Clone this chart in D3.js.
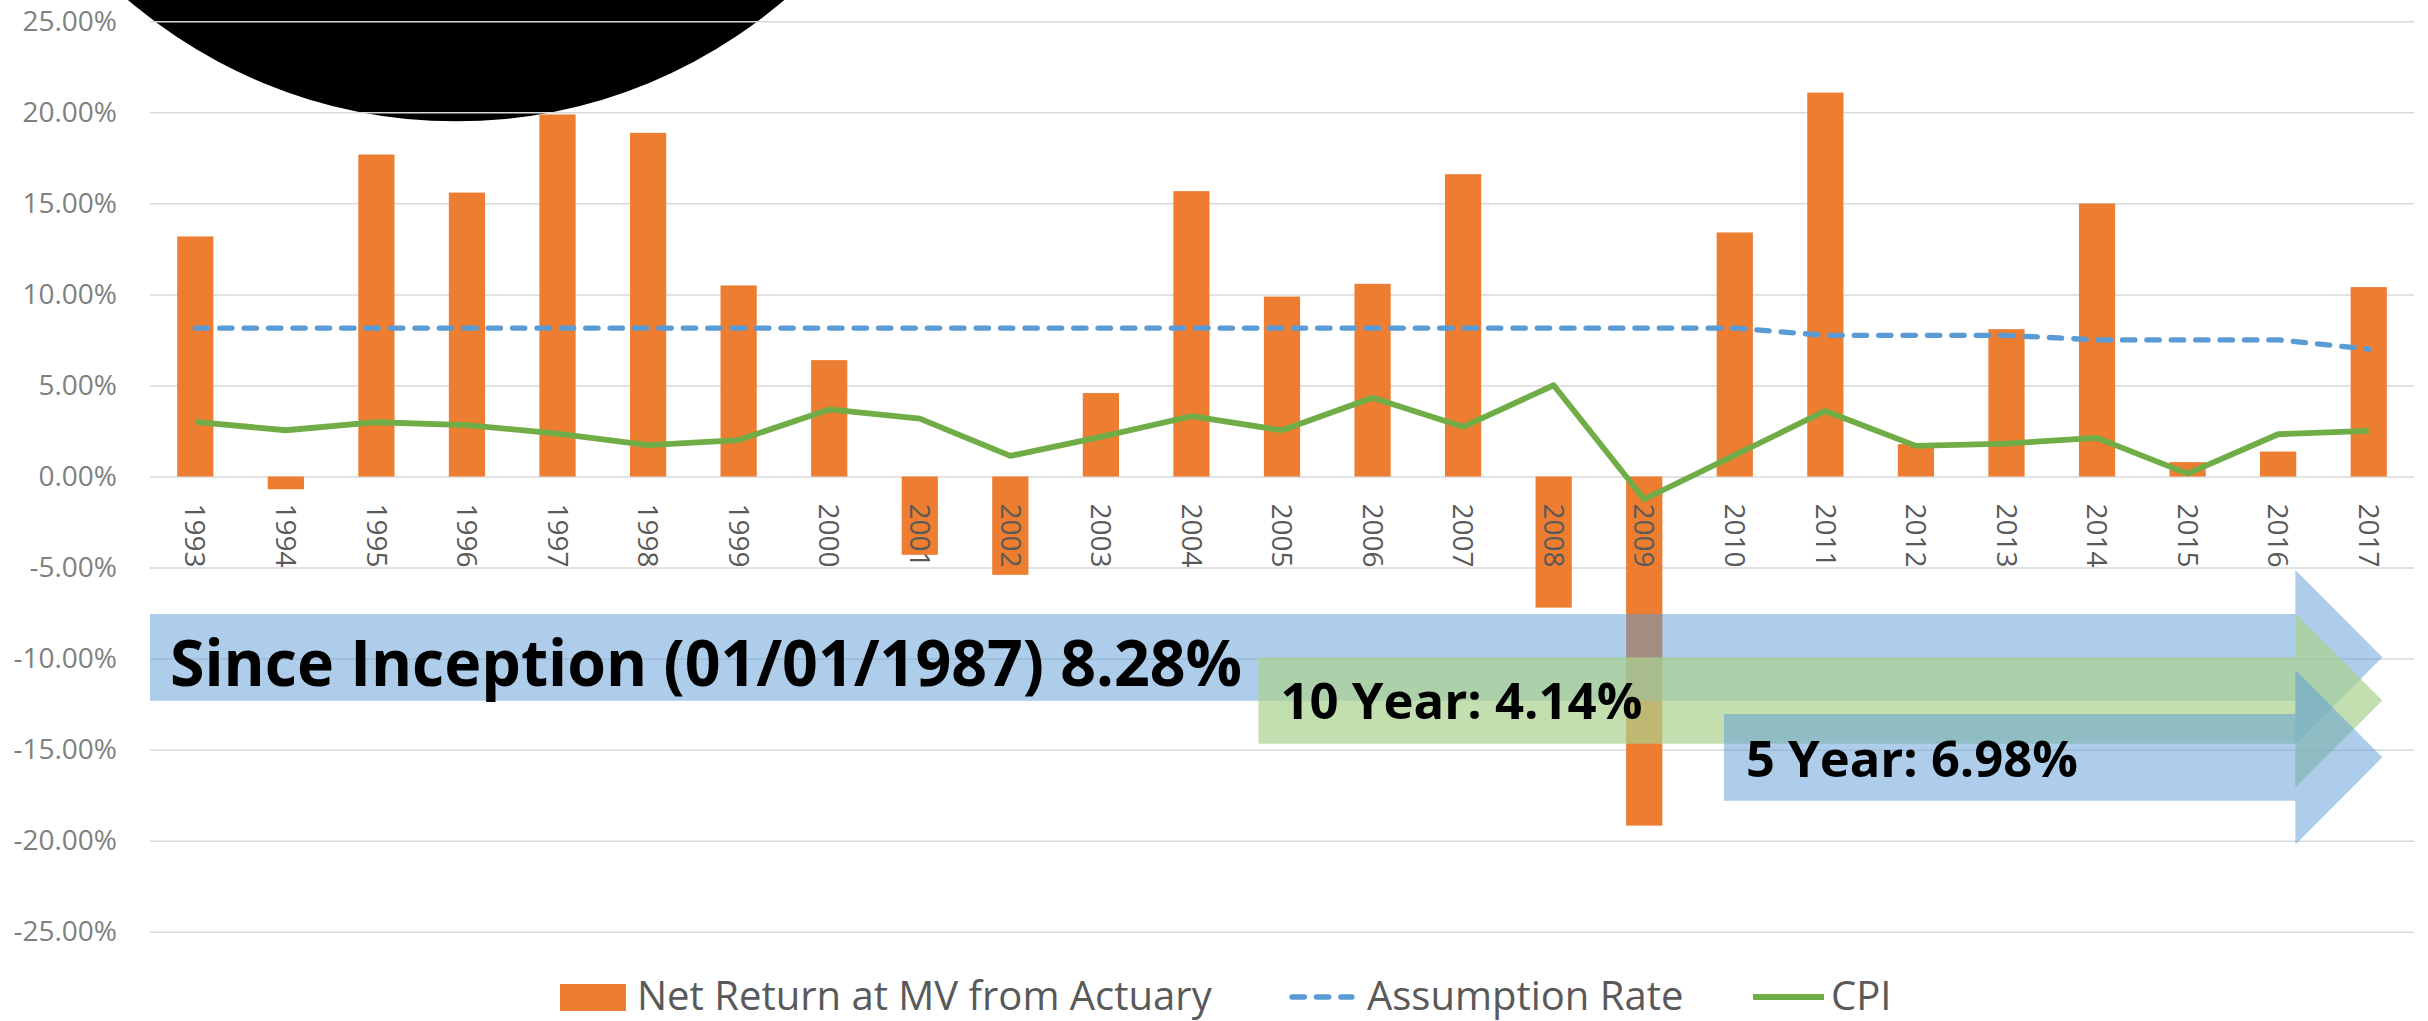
<!DOCTYPE html>
<html>
<head>
<meta charset="utf-8">
<script src="https://cdn.jsdelivr.net/npm/d3@7"></script>
<style>
    body { margin: 0; background: #fff; }
    svg { display: block; font-family: 'Open Sans', sans-serif; }
</style>
</head>
<body>
<div class="visHolder"></div>
<script>
// data (percent)
const years = [1993, 1994, 1995, 1996, 1997, 1998, 1999, 2000, 2001, 2002, 2003, 2004, 2005,
    2006, 2007, 2008, 2009, 2010, 2011, 2012, 2013, 2014, 2015, 2016, 2017];
const netReturn = [13.18, -0.70, 17.68, 15.59, 19.88, 18.87, 10.49, 6.39, -4.30, -5.40, 4.58, 15.67, 9.88,
    10.58, 16.60, -7.20, -19.17, 13.40, 21.08, 1.78, 8.09, 14.99, 0.79, 1.37, 10.40];
const assumptionRate = [8.15, 8.15, 8.15, 8.15, 8.15, 8.15, 8.15, 8.15, 8.15, 8.15, 8.15, 8.15, 8.15,
    8.15, 8.15, 8.15, 8.15, 8.15, 7.75, 7.75, 7.75, 7.5, 7.5, 7.5, 7.0];
const cpi = [3.00, 2.54, 2.98, 2.82, 2.36, 1.72, 2.00, 3.68, 3.18, 1.13, 2.18, 3.31, 2.54,
    4.32, 2.73, 5.01, -1.25, 1.17, 3.60, 1.68, 1.81, 2.12, 0.16, 2.32, 2.51];
const yTicks = [25, 20, 15, 10, 5, 0, -5, -10, -15, -20, -25];
const seriesNames = ['Net Return at MV from Actuary', 'Assumption Rate', 'CPI'];
const callouts = ['Since Inception (01/01/1987) 8.28%', '10 Year: 4.14%', '5 Year: 6.98%'];

const width = 2428,
    height = 1021,
    left = 150,
    right = 2414;

const svg = d3.select('.visHolder')
    .append('svg')
    .attr('width', width)
    .attr('height', height);

const x = d3.scaleBand()
    .domain(years)
    .range([left, right])
    .paddingInner(0.6)
    .paddingOuter(0.3);

// fractional category position -> px (used for the overlays)
const xIdx = d3.scaleLinear()
    .domain([-0.5, years.length - 0.5])
    .range([left, right]);

const y = d3.scaleLinear()
    .domain([-25, 25])
    .range([931.8, 21.2]);

const cx = d => x(d) + x.bandwidth() / 2;

// black blob covering the top-left (drawn under the grid)
svg.append('circle')
    .attr('cx', xIdx(2.88))
    .attr('cy', y(47.2))
    .attr('r', y(0) - y(27.7))
    .attr('fill', '#000');

// gridlines
svg.append('g')
    .attr('transform', `translate(${left},0)`)
    .call(d3.axisLeft(y).tickValues(yTicks).tickSize(-(right - left)).tickFormat(''))
    .call(g => g.select('.domain').remove())
    .call(g => g.selectAll('line').attr('stroke', '#d9d9d9').attr('stroke-width', 1.5));

// y labels
svg.append('g')
    .attr('transform', `translate(${left},0)`)
    .call(d3.axisLeft(y).tickValues(yTicks).tickSize(0).tickPadding(33)
        .tickFormat(d => d.toFixed(2) + '%'))
    .call(g => g.select('.domain').remove())
    .call(g => g.selectAll('text')
        .attr('fill', '#808080')
        .style('font-size', '28px')
        .style('font-family', "'Open Sans', sans-serif"));

// bars
svg.append('g')
    .selectAll('rect')
    .data(netReturn)
    .enter()
    .append('rect')
    .attr('x', (d, i) => x(years[i]))
    .attr('y', d => y(Math.max(0, d)))
    .attr('width', x.bandwidth())
    .attr('height', d => Math.abs(y(d) - y(0)))
    .attr('fill', '#ED7D31');

// x labels, rotated
svg.append('g')
    .attr('transform', `translate(0,${y(0)})`)
    .call(d3.axisBottom(x).tickSize(0))
    .call(g => g.select('.domain').remove())
    .call(g => g.selectAll('text')
        .attr('transform', 'rotate(90)')
        .attr('x', 27)
        .attr('y', 0)
        .attr('dy', '0.35em')
        .attr('fill', '#595959')
        .style('text-anchor', 'start')
        .style('font-size', '28px')
        .style('font-family', "'Open Sans', sans-serif"));

// lines
const line = d3.line()
    .x((d, i) => cx(years[i]))
    .y(d => y(d));

svg.append('path')
    .attr('d', line(assumptionRate))
    .attr('fill', 'none')
    .attr('stroke', '#5B9BD5')
    .attr('stroke-width', 5.3)
    .attr('stroke-dasharray', '12.4 12')
    .attr('stroke-linecap', 'round')
    .attr('stroke-linejoin', 'round');

svg.append('path')
    .attr('d', line(cpi))
    .attr('fill', 'none')
    .attr('stroke', '#70AD47')
    .attr('stroke-width', 5.8)
    .attr('stroke-linejoin', 'round');

// callout arrows
const headStart = 23.19,
    tip = 24.15,
    shaftHalf = 2.38,
    headHalf = 4.79;

const arrows = [
    { start: -0.5, mid: -9.93, fill: 'rgba(91,155,213,0.5)', size: 65, len: 1072, dx: 20, dy: 28.7 },
    { start: 11.74, mid: -12.3, fill: 'rgba(169,209,142,0.7)', size: 50, len: 362, dx: 22, dy: 18.3 },
    { start: 16.88, mid: -15.42, fill: 'rgba(91,155,213,0.5)', size: 51, len: 332, dx: 22, dy: 19.2 }
];

arrows.forEach((a, i) => {
    const pts = [
        [xIdx(a.start), y(a.mid + shaftHalf)],
        [xIdx(headStart), y(a.mid + shaftHalf)],
        [xIdx(headStart), y(a.mid + headHalf)],
        [xIdx(tip), y(a.mid)],
        [xIdx(headStart), y(a.mid - headHalf)],
        [xIdx(headStart), y(a.mid - shaftHalf)],
        [xIdx(a.start), y(a.mid - shaftHalf)]
    ];
    svg.append('polygon')
        .attr('points', pts.map(p => p.join(',')).join(' '))
        .attr('fill', a.fill);

    svg.append('text')
        .attr('x', xIdx(a.start) + a.dx)
        .attr('y', y(a.mid) + a.dy)
        .attr('textLength', a.len)
        .attr('lengthAdjust', 'spacingAndGlyphs')
        .style('font-size', a.size + 'px')
        .style('font-weight', 700)
        .attr('fill', '#000')
        .text(callouts[i]);
});

// legend (kept just inside the bottom edge)
const legend = svg.append('g')
    .style('font-size', '40px')
    .attr('fill', '#595959');

legend.append('rect')
    .attr('x', 560).attr('y', 984)
    .attr('width', 66).attr('height', 27)
    .attr('fill', '#ED7D31');
legend.append('text').attr('x', 637).attr('y', 1010).text(seriesNames[0]);

legend.append('line')
    .attr('x1', 1292).attr('x2', 1352)
    .attr('y1', 997).attr('y2', 997)
    .attr('stroke', '#5B9BD5')
    .attr('stroke-width', 5.3)
    .attr('stroke-dasharray', '12.4 12')
    .attr('stroke-linecap', 'round');
legend.append('text').attr('x', 1367).attr('y', 1010).text(seriesNames[1]);

legend.append('line')
    .attr('x1', 1753).attr('x2', 1824)
    .attr('y1', 997).attr('y2', 997)
    .attr('stroke', '#70AD47')
    .attr('stroke-width', 5.8);
legend.append('text').attr('x', 1831).attr('y', 1010).text(seriesNames[2]);
</script>
</body>
</html>
